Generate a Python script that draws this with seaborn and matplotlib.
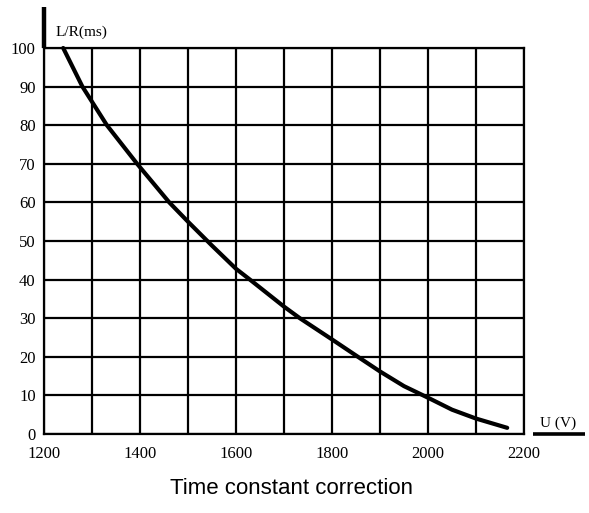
import matplotlib
matplotlib.use("Agg")
import matplotlib.pyplot as plt
import seaborn as sns
import pandas as pd

# Data
voltage = [1240, 1280, 1331, 1394, 1461, 1500, 1550, 1600, 1629,
           1700, 1733, 1800, 1854, 1900, 1950, 2000, 2050, 2100, 2165]
time_const = [100, 90, 80, 70, 60, 55, 48.8, 42.8, 40,
              33, 30, 24.5, 20, 16.2, 12.4, 9.4, 6.3, 4.0, 1.6]
x_major = [1200, 1400, 1600, 1800, 2000, 2200]
x_grid = [1200, 1300, 1400, 1500, 1600, 1700, 1800, 1900, 2000, 2100, 2200]
y_ticks = [0, 10, 20, 30, 40, 50, 60, 70, 80, 90, 100]
y_label = "L/R(ms)"
x_label = "U (V)"
title = "Time constant correction"

sns.set_style("white")
plt.rcParams['font.family'] = ['Liberation Serif', 'DejaVu Serif']
plt.rcParams['text.color'] = 'black'
plt.rcParams['xtick.color'] = 'black'
plt.rcParams['ytick.color'] = 'black'

fig = plt.figure(figsize=(5.89, 5.13), dpi=100)
ax = fig.add_axes([44/589, 1 - 434/513, 480/589, 386/513])

df = pd.DataFrame({"U": voltage, "LR": time_const})
sns.lineplot(data=df, x="U", y="LR", ax=ax, color="black", linewidth=3.0,
             solid_capstyle="round", solid_joinstyle="round", zorder=5,
             clip_on=False)

ax.set_xlim(1200, 2200)
ax.set_ylim(0, 100)
ax.set_xticks(x_major)
ax.set_xticks(x_grid, minor=True)
ax.set_yticks(y_ticks)
ax.grid(True, which="both", color="black", linewidth=1.6)
ax.tick_params(axis="both", which="both", length=0, colors="black")
ax.tick_params(axis="x", pad=9, labelsize=12)
ax.tick_params(axis="y", pad=6, labelsize=12)
for s in ax.spines.values():
    s.set_color("black")
    s.set_linewidth(1.6)
ax.set_xlabel("")
ax.set_ylabel("")

# extended left axis above plot
ax.plot([0, 0], [1.0, 1.105], transform=ax.transAxes, color="black",
        linewidth=3.2, clip_on=False, solid_capstyle="butt")
ax.text(0.023, 1.04, y_label, transform=ax.transAxes, fontsize=11,
        ha="left", va="center", color="black")

# x label with underline
ax.plot([1.019, 1.127], [0, 0], transform=ax.transAxes, color="black",
        linewidth=2.6, clip_on=False, solid_capstyle="butt")
ax.text(1.07, 0.028, x_label, transform=ax.transAxes, fontsize=11,
        ha="center", va="center", color="black")

fig.text(291/589, 1 - 488/513, title, ha="center", va="center",
         fontsize=16, color="black", family=["Liberation Sans", "DejaVu Sans"])

fig.savefig("out.png", dpi=100, facecolor="white")
